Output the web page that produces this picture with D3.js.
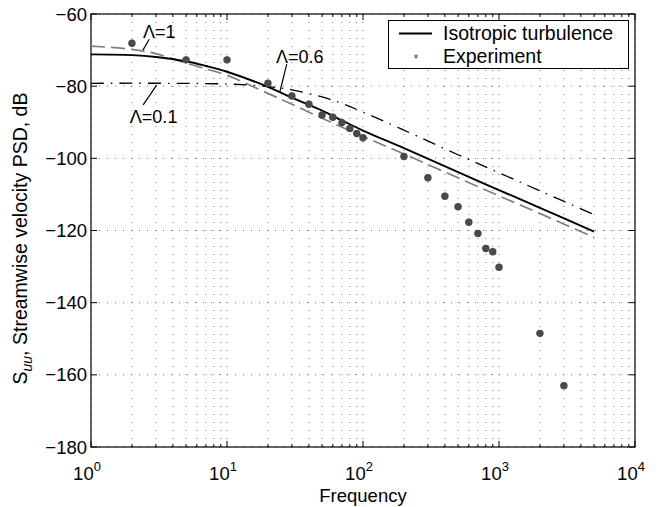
<!DOCTYPE html>
<html>
<head>
<meta charset="utf-8">
<script src="https://cdn.jsdelivr.net/npm/d3@7"></script>
<style>
  body { margin: 0; background: #fff; }
  svg text { font-family: "Liberation Sans", Arial, Helvetica, sans-serif; fill: #000; }
</style>
</head>
<body>
<svg id="chart" width="665" height="507"></svg>
<script>
// values
const expFreq = [2, 5, 10, 20, 30, 40, 50, 60, 70, 80, 90, 100, 200, 300, 400, 500, 600, 700, 800, 900, 1000, 2000, 3000];
const expDb = [-68.1, -72.7, -72.7, -79.2, -82.7, -85.0, -88.0, -88.6, -90.1, -91.7, -93.1, -94.3, -99.5, -105.4, -110.5, -113.4, -117.7, -120.8, -125.0, -125.9, -130.2, -148.5, -163];

const isoFreq = [1, 2, 3, 5, 7, 10, 20, 30, 50, 70, 100, 200, 500, 1000, 2000, 5000];
const isoDb = [-71.2, -71.4, -71.9, -73.1, -74.4, -76.0, -80.2, -83.2, -86.8, -89.5, -92.3, -97.2, -103.8, -108.8, -113.7, -120.3];

const lam1Freq = [1, 2, 3, 5, 7, 10, 20, 30, 50, 100, 200, 500, 1000, 2000, 5000];
const lam1Db = [-68.9, -69.8, -71.0, -73.6, -75.2, -77.0, -82.0, -85.0, -88.9, -93.9, -98.8, -105.4, -110.4, -115.3, -121.9];

const lam01Freq = [1, 10, 20, 30, 50, 70, 100, 200, 500, 1000, 2000, 5000];
const lam01Db = [-79.2, -79.4, -80.1, -81.0, -83.0, -84.8, -87.2, -92.2, -99.0, -104.0, -109.0, -115.6];

const yTicks = [-180, -160, -140, -120, -100, -80, -60];
const xDecades = [0, 1, 2, 3, 4];

// annotation anchors (frequency, dB)
const notes = [
  { text: "\u039B=1",   at: [2.41, -66.7], from: [2.68, -67.0], to: [2.41, -70.0] },
  { text: "\u039B=0.6", at: [22.9, -73.5], from: [27.5, -73.9], to: [24.5, -81.5] },
  { text: "\u039B=0.1", at: [1.93, -90.2], from: [2.42, -85.2], to: [3.04, -79.7] }
];

const svg = d3.select("#chart");
const margin = { left: 91, right: 30, top: 14, bottom: 60 };
const W = 665, H = 507;

const x = d3.scaleLog().domain([1, 1e4]).range([margin.left, W - margin.right]);
const y = d3.scaleLinear().domain([-180, -60]).range([H - margin.bottom, margin.top]);

const x0 = x.range()[0], x1 = x.range()[1], y0 = y.range()[0], y1 = y.range()[1];

// grid
const minorX = [];
xDecades.slice(0, -1).forEach(function(e){
  for (let k = 2; k <= 9; k++) minorX.push(k * Math.pow(10, e));
});
const allX = minorX.concat(xDecades.map(function(e){ return Math.pow(10, e); }));

const grid = svg.append("g").attr("stroke", "#555").attr("stroke-width", 0.8)
  .attr("stroke-dasharray", "1,7");
grid.selectAll(".gx").data(allX).enter().append("line")
  .attr("x1", function(d){ return x(d); }).attr("x2", function(d){ return x(d); })
  .attr("y1", y0).attr("y2", y1);
grid.selectAll(".gy").data(yTicks).enter().append("line")
  .attr("y1", function(d){ return y(d); }).attr("y2", function(d){ return y(d); })
  .attr("x1", x0).attr("x2", x1);

// ticks, inside on all four sides
const tk = svg.append("g").attr("stroke", "#000").attr("stroke-width", 1);
allX.forEach(function(d){
  const len = minorX.indexOf(d) >= 0 ? 3 : 6;
  tk.append("line").attr("x1", x(d)).attr("x2", x(d)).attr("y1", y0).attr("y2", y0 - len);
  tk.append("line").attr("x1", x(d)).attr("x2", x(d)).attr("y1", y1).attr("y2", y1 + len);
});
yTicks.forEach(function(d){
  tk.append("line").attr("y1", y(d)).attr("y2", y(d)).attr("x1", x0).attr("x2", x0 + 6);
  tk.append("line").attr("y1", y(d)).attr("y2", y(d)).attr("x1", x1).attr("x2", x1 - 6);
});

// frame
svg.append("rect").attr("x", x0).attr("y", y1).attr("width", x1 - x0).attr("height", y0 - y1)
  .attr("fill", "none").attr("stroke", "#000").attr("stroke-width", 1.2);

// tick labels
svg.selectAll(".yl").data(yTicks).enter().append("text")
  .attr("x", x0 - 4).attr("y", function(d){ return y(d) + 6.5; })
  .attr("text-anchor", "end").attr("font-size", 18.5)
  .text(function(d){ return d < 0 ? "\u2212" + Math.abs(d) : d; });

const xl = svg.selectAll(".xl").data(xDecades).enter().append("text")
  .attr("x", function(d){ return x(Math.pow(10, d)) - 4; }).attr("y", y0 + 33)
  .attr("text-anchor", "middle").attr("font-size", 18.5);
xl.append("tspan").text("10");
xl.append("tspan").attr("dy", -9).attr("font-size", 13).text(function(d){ return d; });

// axis titles
svg.append("text").attr("x", (x0 + x1) / 2).attr("y", y0 + 55)
  .attr("text-anchor", "middle").attr("font-size", 18.5).text("Frequency");

const yt = svg.append("text").attr("transform", "translate(27," + ((y0 + y1) / 2 + 8) + ") rotate(-90)")
  .attr("text-anchor", "middle").attr("font-size", 19.5);
yt.append("tspan").text("S");
yt.append("tspan").attr("dy", 5).attr("font-size", 14).attr("font-style", "italic").text("uu");
yt.append("tspan").attr("dy", -5).text(", Streamwise velocity PSD, dB");

// curves
const line = d3.line().x(function(d){ return x(d[0]); }).y(function(d){ return y(d[1]); })
  .curve(d3.curveCatmullRom.alpha(0.5));
const zip = function(a, b){ return a.map(function(v, i){ return [v, b[i]]; }); };

svg.append("path").datum(zip(lam1Freq, lam1Db)).attr("d", line)
  .attr("fill", "none").attr("stroke", "#7f7f7f").attr("stroke-width", 1.7)
  .attr("stroke-dasharray", "14,6");
svg.append("path").datum(zip(lam01Freq, lam01Db)).attr("d", line)
  .attr("fill", "none").attr("stroke", "#000").attr("stroke-width", 1.3)
  .attr("stroke-dasharray", "13,7,1.5,7");
svg.append("path").datum(zip(isoFreq, isoDb)).attr("d", line)
  .attr("fill", "none").attr("stroke", "#000").attr("stroke-width", 1.9);

// experiment points
const pts = zip(expFreq, expDb);
svg.selectAll(".dot").data(pts).enter().append("circle")
  .attr("class", "dot")
  .attr("cx", function(d){ return x(d[0]); }).attr("cy", function(d){ return y(d[1]); })
  .attr("r", 3.7).attr("fill", "#4a4a4a");
svg.selectAll(".ast").data(pts).enter().append("path")
  .attr("transform", function(d){ return "translate(" + x(d[0]) + "," + y(d[1]) + ")"; })
  .attr("d", d3.symbol().type(d3.symbolAsterisk).size(32))
  .attr("stroke", "#4a4a4a").attr("stroke-width", 1.6).attr("fill", "none");

// annotations
notes.forEach(function(n){
  svg.append("line").attr("x1", x(n.from[0])).attr("y1", y(n.from[1]))
    .attr("x2", x(n.to[0])).attr("y2", y(n.to[1])).attr("stroke", "#000").attr("stroke-width", 1.2);
  svg.append("text").attr("x", x(n.at[0])).attr("y", y(n.at[1]))
    .attr("font-size", 18).text(n.text);
});

// legend
const lg = svg.append("g");
lg.append("rect").attr("x", 388.5).attr("y", 20.5).attr("width", 240).attr("height", 48)
  .attr("fill", "#fff").attr("stroke", "#000").attr("stroke-width", 1);
lg.append("line").attr("x1", 399).attr("x2", 432).attr("y1", 33.5).attr("y2", 33.5)
  .attr("stroke", "#000").attr("stroke-width", 1.9);
lg.append("text").attr("x", 443).attr("y", 40).attr("font-size", 19.5).text("Isotropic turbulence");
lg.append("path").attr("transform", "translate(416,56.5)")
  .attr("d", d3.symbol().type(d3.symbolAsterisk).size(14))
  .attr("stroke", "#666").attr("stroke-width", 1).attr("fill", "none");
lg.append("text").attr("x", 443).attr("y", 63).attr("font-size", 19.5).text("Experiment");
</script>
</body>
</html>
